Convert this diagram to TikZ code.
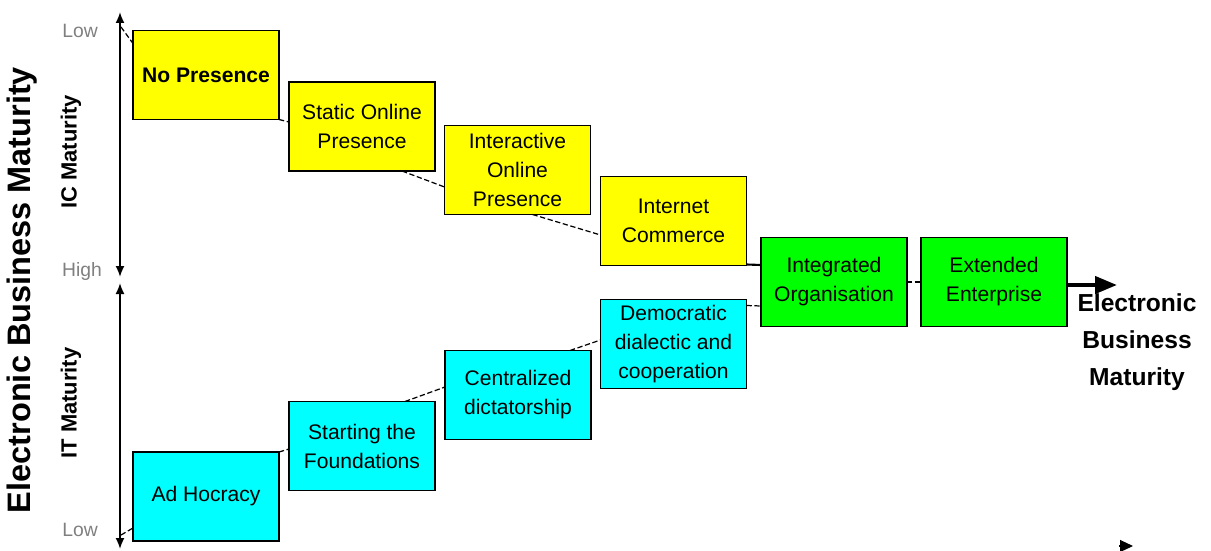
\documentclass[tikz,border=0pt]{standalone}
\usepackage{fontspec}
\setmainfont{Liberation Sans}
\usetikzlibrary{arrows.meta, positioning, calc}
\definecolor{icYellow}{RGB}{255,255,0}
\definecolor{itCyan}{RGB}{0,255,255}
\definecolor{ebGreen}{RGB}{0,255,0}

\begin{document}
\begin{tikzpicture}[x=0.02cm, y=-0.02cm,
	stage/.style = {rectangle, draw, line width=0.8pt, inner sep=1pt, outer sep=0mm,
		minimum width=2.92cm, minimum height=1.78cm, align=center,
		font=\fontsize{12}{16.5}\selectfont},
	ICS/.style = {stage, fill=icYellow},
	ITS/.style = {stage, fill=itCyan},
	EBS/.style = {stage, fill=ebGreen},
	LK/.style = {% Link line
		draw, line width=0.7pt, dash pattern=on 3pt off 1.5pt},
	AX/.style = {% Axis arrow
		draw, line width=1pt, {Latex[length=2.2mm,width=1.8mm]}-{Latex[length=2.2mm,width=1.8mm]}},
	lvl/.style = {font=\fontsize{11}{12}\selectfont, text=gray}]
\useasboundingbox (0,0) rectangle (1211,551);

% side titles
\node[rotate=90, font=\fontsize{18.5}{20}\selectfont\bfseries] (ebmv) at (22,290) {Electronic Business Maturity};
\node[rotate=90, font=\fontsize{12.5}{14}\selectfont\bfseries] (icm) at (71,152) {IC Maturity};
\node[rotate=90, font=\fontsize{12.5}{14}\selectfont\bfseries] (itm) at (71,403) {IT Maturity};

% axes
\coordinate (icTop) at (120,12);
\coordinate (icBot) at (120,277);
\coordinate (itTop) at (120,283);
\coordinate (itBot) at (120,549);
\draw[AX] (icTop) -- (icBot);
\draw[AX] (itTop) -- (itBot);
\node[lvl] (icLo) at (80,31)  {Low};
\node[lvl] (icHi) at (82,272) {High};
\node[lvl] (itLo) at (80,530) {Low};
\coordinate (icLow) at (121,27);
\coordinate (itLow) at (121,535);

% IC stages
\node[ICS, font=\fontsize{12}{16.5}\selectfont\bfseries] (np) at (206,75) {No Presence};
\node[ICS] (sop) at (362,126.5) {Static Online\\Presence};
\node[ICS] (iop) at (517.5,170) {Interactive\\Online\\Presence};
\node[ICS] (ic)  at (673.5,221) {Internet\\Commerce};

% IT stages
\node[ITS] (ah) at (206,496.5) {Ad Hocracy};
\node[ITS] (sf) at (362,446) {Starting the\\Foundations};
\node[ITS] (cd) at (518,395) {Centralized\\dictatorship};
\node[ITS] (dd) at (673.5,344) {Democratic\\dialectic and\\cooperation};

% merged stages
\node[EBS] (io) at (834,282) {Integrated\\Organisation};
\node[EBS] (ee) at (994,282) {Extended\\Enterprise};

% links
\draw[LK] (icLow) -- ([yshift=-0.26cm]np.north west);
\draw[LK] (np.south east) -- ([yshift=0.09cm]sop.west);
\draw[LK] ([xshift=0.8cm]sop.south) -- ([yshift=-0.34cm]iop.west);
\draw[LK] ([xshift=0.3cm]iop.south) -- ([yshift=-0.28cm]ic.west);
\draw[line width=1.2pt] ([yshift=0.02cm]ic.south east) -- ([yshift=0.34cm]io.west);
\draw[LK] (io.east) -- (ee.west);
\draw[LK] ([yshift=-0.12cm]dd.north east) -- ([yshift=-0.48cm]io.west);
\draw[LK] ([xshift=1.04cm]cd.north) -- ([yshift=0.08cm]dd.west);
\draw[LK] ([xshift=0.86cm]sf.north) -- ([yshift=0.16cm]cd.west);
\draw[LK] (ah.north east) -- ([yshift=-0.06cm]sf.west);
\draw[LK] (itLow) -- ([yshift=0.26cm]ah.south west);

% overall direction
\coordinate (ebTip) at (1117,285);
\draw[line width=2.4pt, -{Triangle[length=4.4mm,width=3.4mm]}] (ee.east |- ebTip) -- (ebTip);
\node[font=\fontsize{14}{21}\selectfont\bfseries, align=center] (ebm) at (1137,342) {Electronic\\Business\\Maturity};
\coordinate (stray) at (1119,546);
\draw[line width=0.6pt, -{Triangle[length=2.6mm,width=2.4mm]}] (stray) -- ++(14,0);
\end{tikzpicture}
\end{document}
